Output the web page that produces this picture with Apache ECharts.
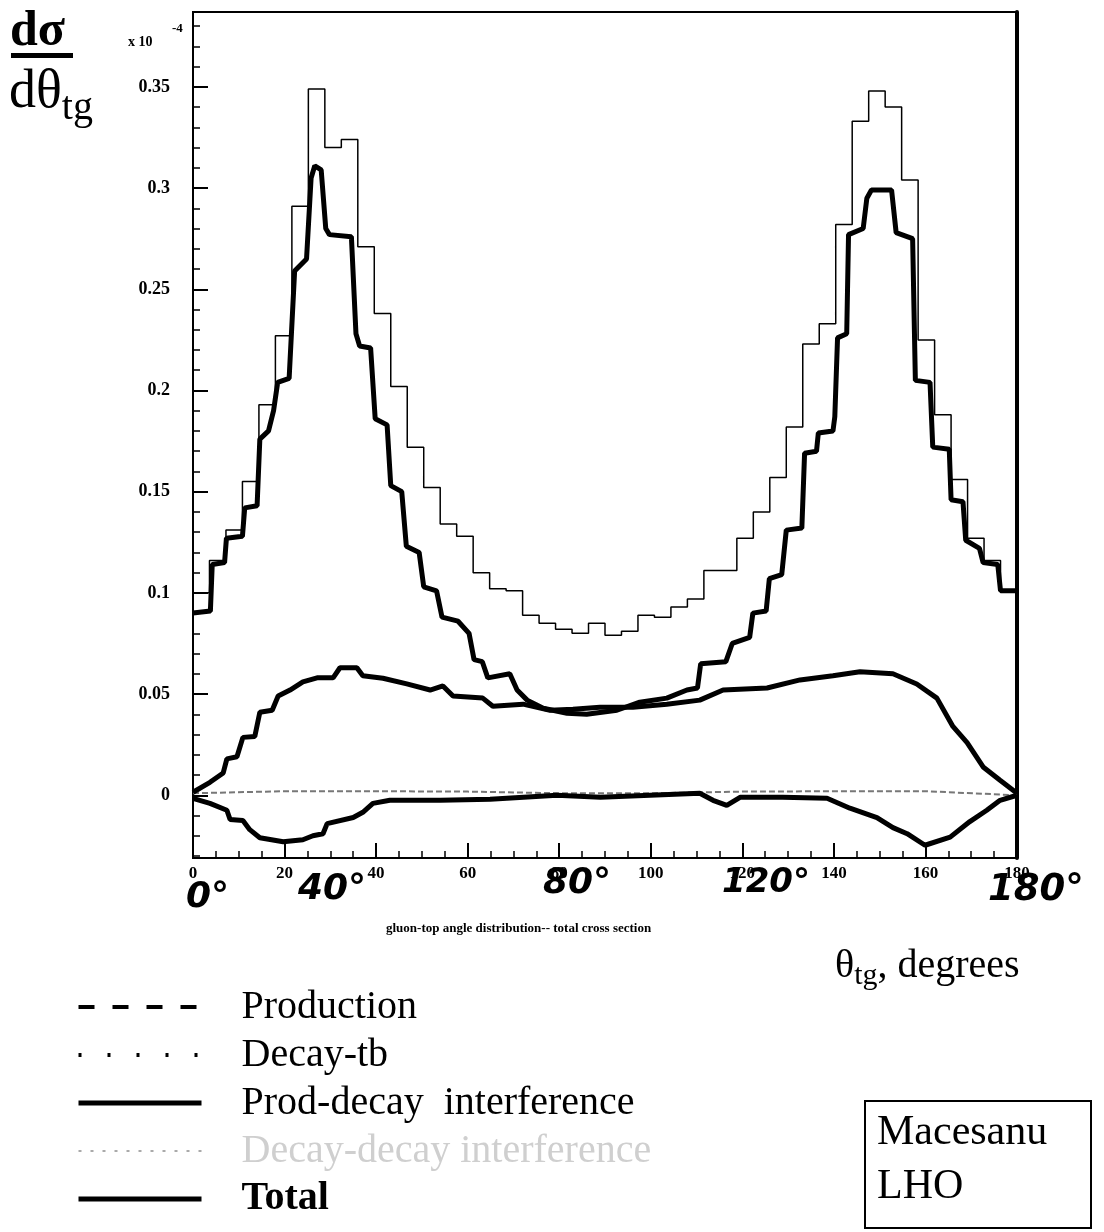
<!DOCTYPE html>
<html>
<head>
<meta charset="utf-8">
<script src="https://cdn.jsdelivr.net/npm/echarts@6/dist/echarts.min.js"></script>
<style>
  html, body { margin: 0; padding: 0; background: #fff; }
  #main { width: 1104px; height: 1232px; }
</style>
</head>
<body>
<div id="main"></div>
<script>
// ---- data (values in units of 1e-4) ----
// thin histogram, 50 bins of 3.6 degrees
var totalBins = [0.100, 0.116, 0.131, 0.155, 0.193, 0.227, 0.291, 0.349, 0.320, 0.324,
                 0.271, 0.238, 0.202, 0.172, 0.152, 0.134, 0.128, 0.110, 0.102, 0.101,
                 0.089, 0.085, 0.082, 0.080, 0.085, 0.079, 0.081, 0.089, 0.088, 0.093,
                 0.097, 0.111, 0.111, 0.127, 0.140, 0.157, 0.182, 0.223, 0.233, 0.282,
                 0.333, 0.348, 0.340, 0.304, 0.225, 0.188, 0.156, 0.127, 0.116, 0.101];
var binWidth = 3.6;

var prodAngle = [0, 3.8, 4.2, 6.9, 7.3, 10.8, 11.3, 14.0, 14.6, 16.5, 17.6, 18.5, 21.0, 22.2, 24.8, 25.8, 26.6, 28.0, 29.0, 29.8,
                 34.6, 35.6, 36.4, 38.8, 39.8, 42.4, 43.2, 45.6, 46.6, 49.4, 50.4, 53.2, 54.4, 57.9, 60.3, 61.4, 63.2, 64.4, 69.2, 70.8,
                 73.0, 76.5, 81.7, 86.0, 92.6, 97.6, 103.5, 107.9, 110.2, 110.9, 116.4, 117.8, 121.6, 122.3, 125.2, 125.9, 128.6, 129.6, 133.0, 133.6,
                 136.2, 136.6, 139.8, 140.2, 140.8, 142.8, 143.2, 146.4, 147.2, 148.2, 152.6, 153.6, 157.2, 157.8, 161.0, 161.6, 165.2, 165.6, 168.2, 168.8,
                 171.8, 172.6, 175.8, 176.4, 180];
var prodValue = [0.090, 0.091, 0.114, 0.115, 0.127, 0.128, 0.142, 0.143, 0.176, 0.180, 0.190, 0.204, 0.206, 0.259, 0.265, 0.305, 0.311, 0.309, 0.280, 0.277,
                 0.276, 0.228, 0.222, 0.221, 0.186, 0.183, 0.153, 0.150, 0.123, 0.120, 0.103, 0.101, 0.088, 0.086, 0.080, 0.067, 0.066, 0.058, 0.060, 0.052,
                 0.047, 0.043, 0.0405, 0.040, 0.042, 0.046, 0.048, 0.052, 0.053, 0.065, 0.066, 0.075, 0.078, 0.090, 0.091, 0.107, 0.109, 0.131, 0.132, 0.169,
                 0.170, 0.179, 0.180, 0.187, 0.226, 0.228, 0.277, 0.280, 0.295, 0.299, 0.299, 0.278, 0.275, 0.205, 0.204, 0.172, 0.171, 0.146, 0.145, 0.126,
                 0.122, 0.115, 0.114, 0.101, 0.101];

var decayAngle = [0, 3.7, 6.6, 7.4, 9.6, 10.9, 13.5, 14.6, 17.3, 18.6, 21.2, 24.0, 27.1, 30.6, 32.1, 35.8, 37.1, 41.5, 46.7, 51.8,
                  54.6, 56.8, 63.3, 65.5, 72.1, 78.0, 83.0, 88.9, 96.1, 103.5, 110.7, 115.8, 125.4, 132.6, 139.8, 145.7, 152.9, 158.1, 162.5, 166.0,
                  169.1, 172.6, 176.3, 180];
var decayValue = [0.0015, 0.0064, 0.011, 0.018, 0.019, 0.0286, 0.029, 0.041, 0.042, 0.049, 0.052, 0.056, 0.058, 0.058, 0.063, 0.063, 0.059, 0.0578, 0.055, 0.052,
                  0.054, 0.049, 0.048, 0.044, 0.045, 0.042, 0.0425, 0.0435, 0.0435, 0.045, 0.047, 0.052, 0.053, 0.057, 0.059, 0.061, 0.060, 0.055, 0.048, 0.034,
                  0.026, 0.014, 0.0074, 0.001];

var interfAngle = [0, 3.7, 7.4, 8.1, 10.9, 12.4, 14.6, 19.7, 24.0, 26.2, 28.4, 29.3, 35.0, 37.1, 39.3, 43.0, 54.0, 64.9, 79.5, 89.0,
                   110.7, 113.6, 116.6, 119.5, 128.8, 138.5, 143.5, 149.4, 152.9, 156.0, 159.9, 165.4, 169.7, 173.4, 176.3, 180];
var interfValue = [-0.0015, -0.004, -0.0074, -0.012, -0.0125, -0.017, -0.021, -0.023, -0.022, -0.020, -0.019, -0.014, -0.011, -0.0084, -0.004, -0.0025, -0.0025, -0.002, 0, -0.001,
                   0.001, -0.0025, -0.005, -0.001, -0.001, -0.0015, -0.0064, -0.011, -0.016, -0.019, -0.0247, -0.0207, -0.013, -0.0074, -0.0025, 0];

var ddAngle = [0, 20, 40, 60, 80, 100, 120, 140, 160, 180];
var ddValue = [0.001, 0.002, 0.002, 0.0018, 0.001, 0.001, 0.0018, 0.002, 0.002, 0];

var yMajor = [0, 0.05, 0.1, 0.15, 0.2, 0.25, 0.3, 0.35];
var yMinor = [-0.03, -0.02, -0.01, 0, 0.01, 0.02, 0.03, 0.04, 0.05, 0.06, 0.07, 0.08, 0.09, 0.1, 0.11, 0.12, 0.13, 0.14,
              0.15, 0.16, 0.17, 0.18, 0.19, 0.2, 0.21, 0.22, 0.23, 0.24, 0.25, 0.26, 0.27, 0.28, 0.29, 0.3, 0.31, 0.32,
              0.33, 0.34, 0.35, 0.36, 0.37, 0.38];
var yLabels = ['0', '0.05', '0.1', '0.15', '0.2', '0.25', '0.3', '0.35'];

function zip(a, b) {
    return a.map(function (x, i) { return [x, b[i]]; });
}

// histogram as step points at bin edges
var totalData = totalBins.map(function (v, i) { return [i * binWidth, v]; });
totalData.push([totalBins.length * binWidth, totalBins[totalBins.length - 1]]);

var serif = '"Liberation Serif", "DejaVu Serif", serif';
var hand = '"DejaVu Sans", sans-serif';
var noDot = { opacity: 0 };

var myChart = echarts.init(document.getElementById('main'));

var option = {
    backgroundColor: '#fff',
    animation: false,

    // Setup grid
    grid: {
        left: 193,
        right: 87,
        top: 12,
        bottom: 374,
        show: true,
        borderColor: '#000',
        borderWidth: 2
    },

    // Legend below the chart
    legend: {
        orient: 'vertical',
        left: 76,
        top: 987,
        padding: 0,
        itemWidth: 123,
        itemHeight: 14,
        itemGap: 8,
        selectedMode: false,
        itemStyle: noDot,
        textStyle: { fontFamily: serif, fontSize: 40, color: '#000', padding: [0, 0, 0, 35], lineHeight: 40 },
        data: [
            { name: 'Production', itemStyle: noDot, lineStyle: { color: '#000', width: 4, type: [16, 18] } },
            { name: 'Decay-tb', itemStyle: noDot, lineStyle: { color: '#000', width: 4, type: [3, 26] } },
            { name: 'Prod-decay  interference', itemStyle: noDot, lineStyle: { color: '#000', width: 5, type: 'solid' } },
            { name: 'Decay-decay interference', itemStyle: noDot, lineStyle: { color: '#aaa', width: 2, type: [3, 9] },
              textStyle: { color: '#cfcfcf' } },
            { name: 'Total', itemStyle: noDot, lineStyle: { color: '#000', width: 5, type: 'solid' },
              textStyle: { fontWeight: 'bold' } }
        ]
    },

    // Horizontal axis
    xAxis: [{
        type: 'value',
        min: 0,
        max: 180,
        interval: 20,
        axisLine: { onZero: false, lineStyle: { color: '#000', width: 2 } },
        axisTick: { inside: true, length: 15, lineStyle: { color: '#000', width: 2 } },
        minorTick: { show: true, splitNumber: 4, length: 7, lineStyle: { color: '#000', width: 1.5 } },
        axisLabel: { margin: 7, fontFamily: serif, fontWeight: 'bold', fontSize: 17, color: '#000' },
        splitLine: { show: false }
    }],

    // Vertical axes: labels + major ticks, minor ticks, thick right frame
    yAxis: [{
        type: 'value',
        min: -0.031,
        max: 0.387,
        position: 'left',
        axisLine: { show: true, onZero: false, lineStyle: { color: '#000', width: 2 } },
        axisTick: { show: true, inside: true, length: 15, customValues: yMajor, lineStyle: { color: '#000', width: 2 } },
        axisLabel: {
            customValues: yMajor, margin: 23, fontFamily: serif, fontWeight: 'bold', fontSize: 18, color: '#000',
            formatter: function (v) { return yLabels[yMajor.indexOf(+v.toFixed(2))] || ''; }
        },
        splitLine: { show: false }
    }, {
        type: 'value',
        min: -0.031,
        max: 0.387,
        position: 'left',
        axisLine: { show: false },
        axisTick: { show: true, inside: true, length: 7, customValues: yMinor, lineStyle: { color: '#000', width: 1.5 } },
        axisLabel: { show: false },
        splitLine: { show: false }
    }, {
        type: 'value',
        min: -0.031,
        max: 0.387,
        position: 'right',
        axisLine: { show: true, onZero: false, lineStyle: { color: '#000', width: 4 } },
        axisTick: { show: false },
        axisLabel: { show: false },
        splitLine: { show: false }
    }],

    series: [
        {
            name: 'Production',
            type: 'line',
            symbol: 'none',
            lineStyle: { color: '#000', width: 5 },
            itemStyle: { color: '#000' },
            data: zip(prodAngle, prodValue),
            z: 4
        },
        {
            name: 'Decay-tb',
            type: 'line',
            symbol: 'none',
            lineStyle: { color: '#000', width: 5 },
            itemStyle: { color: '#000' },
            data: zip(decayAngle, decayValue),
            z: 4
        },
        {
            name: 'Prod-decay  interference',
            type: 'line',
            symbol: 'none',
            lineStyle: { color: '#000', width: 5 },
            itemStyle: { color: '#000' },
            data: zip(interfAngle, interfValue),
            z: 4
        },
        {
            name: 'Decay-decay interference',
            type: 'line',
            symbol: 'none',
            lineStyle: { color: '#777', width: 2, type: [6, 3] },
            itemStyle: { color: '#777' },
            data: zip(ddAngle, ddValue),
            z: 3
        },
        {
            name: 'Total',
            type: 'line',
            step: 'end',
            symbol: 'none',
            lineStyle: { color: '#000', width: 1.5 },
            itemStyle: { color: '#000' },
            data: totalData,
            z: 5
        }
    ],

    graphic: [
        // d sigma / d theta_tg
        { type: 'text', left: 10, top: 7, style: { text: 'dσ', font: 'bold 50px ' + serif, fill: '#000' } },
        { type: 'rect', shape: { x: 11, y: 53, width: 62, height: 5 }, style: { fill: '#000' } },
        { type: 'text', left: 9, top: 66, style: {
            text: '{a|dθ}{b|tg}',
            rich: {
                a: { font: '54px ' + serif, fill: '#000' },
                b: { font: '40px ' + serif, fill: '#000', padding: [30, 0, 0, 0] }
            }
        } },
        { type: 'text', left: 128, top: 35, style: { text: 'x 10', font: 'bold 14px ' + serif, fill: '#000' } },
        { type: 'text', left: 172, top: 22, style: { text: '-4', font: 'bold 13px ' + serif, fill: '#000' } },

        // handwritten degree marks
        { type: 'text', left: 186, top: 880, style: { text: '0°', font: 'italic bold 36px ' + hand, fill: '#000' } },
        { type: 'text', left: 298, top: 872, style: { text: '40°', font: 'italic bold 36px ' + hand, fill: '#000' } },
        { type: 'text', left: 543, top: 866, style: { text: '80°', font: 'italic bold 36px ' + hand, fill: '#000' } },
        { type: 'text', left: 722, top: 866, style: { text: '120°', font: 'italic bold 34px ' + hand, fill: '#000' } },
        { type: 'text', left: 988, top: 872, style: { text: '180°', font: 'italic bold 37px ' + hand, fill: '#000' } },

        // plot title
        { type: 'text', left: 386, top: 922, style: { text: 'gluon-top angle distribution-- total cross section', font: 'bold 13px ' + serif, fill: '#000' } },

        // x axis name
        { type: 'text', left: 835, top: 946, style: {
            text: '{a|θ}{b|tg}{a|, degrees}',
            rich: {
                a: { font: '40px ' + serif, fill: '#000' },
                b: { font: '30px ' + serif, fill: '#000', padding: [20, 0, 0, 0] }
            }
        } },

        // author box
        { type: 'rect', shape: { x: 865, y: 1101, width: 226, height: 127 }, style: { fill: 'none', stroke: '#000', lineWidth: 2 } },
        { type: 'text', left: 877, top: 1112, style: { text: 'Macesanu', font: '42px ' + serif, fill: '#000' } },
        { type: 'text', left: 877, top: 1166, style: { text: 'LHO', font: '42px ' + serif, fill: '#000' } }
    ]
};

myChart.setOption(option);
</script>
</body>
</html>
